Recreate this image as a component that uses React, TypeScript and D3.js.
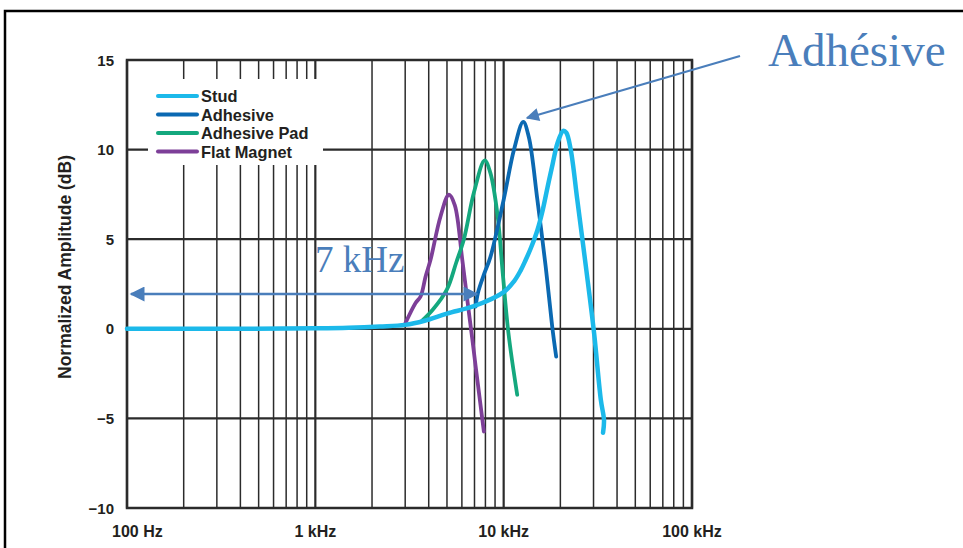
import React from "react";
import * as d3 from "d3";

const W = 963;
const H = 548;

// Frequencies (Hz) and normalized amplitude (dB) for each series
const studFreq = [100, 300, 1000, 1500, 2200, 3000, 3800, 5000, 7100, 10000, 11350, 12300, 13100, 14000, 15100, 16100, 17100, 18200, 19300, 20700, 21500, 22700, 24600, 27300, 30200, 32800, 34100, 33700];
const studDb = [0, 0, 0.03, 0.06, 0.13, 0.22, 0.45, 0.85, 1.3, 2.05, 2.65, 3.25, 3.85, 4.55, 5.5, 6.6, 7.9, 9.2, 10.36, 11.05, 10.95, 10.0, 7.2, 3.5, -0.24, -3.96, -5.1, -5.8];

const adhesiveFreq = [7100, 7300, 7900, 8500, 10000, 11350, 12700, 13600, 15100, 16700, 18100, 19000];
const adhesiveDb = [1.24, 2.0, 3.1, 4.0, 7.2, 10.0, 11.55, 10.7, 7.2, 3.5, 0.13, -1.55];

const padFreq = [3690, 4200, 5000, 5600, 6150, 6950, 7930, 8500, 9290, 9890, 10600, 11800];
const padDb = [0.45, 1.06, 2.2, 3.7, 5.0, 7.6, 9.4, 8.7, 6.3, 3.1, -0.24, -3.68];

const magnetFreq = [3010, 3400, 3620, 3850, 4090, 4620, 5120, 5500, 6030, 6410, 6820, 7100, 7850];
const magnetDb = [0.32, 1.43, 1.8, 2.92, 3.85, 6.27, 7.48, 6.9, 3.85, 1.62, -0.6, -2.1, -5.73];

const seriesNames = ["Stud", "Adhesive", "Adhesive Pad", "Flat Magnet"];
const seriesColors = ["#1cb9ea", "#0b69b2", "#14a87e", "#7d3f98"];

const yTicks = [15, 10, 5, 0, -5, -10];
const xDecades = [100, 1000, 10000, 100000];
const xTickLabels = ["100 Hz", "1 kHz", "10 kHz", "100 kHz"];

const yTitle = "Normalized Amplitude (dB)";
const noteAdhesive = "Adhésive";
const note7k = "7 kHz";

export default function App() {
  const left = 127, right = 692, top = 60, bottom = 508;
  const x = d3.scaleLog().domain([100, 100000]).range([left, right]);
  const y = d3.scaleLinear().domain([-10, 15]).range([bottom, top]);

  const minor: number[] = [];
  for (let d = 100; d < 100000; d *= 10) {
    for (let k = 2; k <= 9; k++) minor.push(d * k);
  }

  const line = d3
    .line<[number, number]>()
    .x((d) => x(d[0]))
    .y((d) => y(d[1]))
    .curve(d3.curveCatmullRom.alpha(0.5));

  const zip = (f: number[], v: number[]) => f.map((ff, i) => [ff, v[i]] as [number, number]);
  const series = [
    zip(studFreq, studDb),
    zip(adhesiveFreq, adhesiveDb),
    zip(padFreq, padDb),
    zip(magnetFreq, magnetDb),
  ];
  const drawOrder = [3, 2, 1, 0];

  const sans = "'Liberation Sans', Arial, sans-serif";
  const serif = "'Liberation Serif', 'DejaVu Serif', serif";
  const gridColor = "#2b2b2b";
  const noteColor = "#4a7ebb";
  const textColor = "#231f20";

  return (
    <svg width={W} height={H} style={{ position: "absolute", left: 0, top: 0 }}>
      <defs>
        <marker id="ah" viewBox="0 0 10 10" refX="9" refY="5" markerWidth="6.5" markerHeight="6" orient="auto-start-reverse" markerUnits="strokeWidth">
          <path d="M0,0 L10,5 L0,10 z" fill={noteColor} />
        </marker>
      </defs>
      <rect x={0} y={0} width={W} height={H} fill="#fff" />
      <rect x={5} y={11} width={1000} height={600} fill="none" stroke="#000" strokeWidth={2.5} />

      {/* grid */}
      {minor.map((f) => (
        <line key={"m" + f} x1={x(f)} x2={x(f)} y1={top} y2={bottom} stroke={gridColor} strokeWidth={1.5} />
      ))}
      {xDecades.map((f) => (
        <line key={"d" + f} x1={x(f)} x2={x(f)} y1={top} y2={bottom} stroke={gridColor} strokeWidth={2.2} />
      ))}
      {yTicks.map((t) => (
        <line key={"h" + t} x1={left} x2={right} y1={y(t)} y2={y(t)} stroke={gridColor} strokeWidth={2.2} />
      ))}
      <rect x={left} y={top} width={right - left} height={bottom - top} fill="none" stroke={gridColor} strokeWidth={2.5} />

      {/* legend */}
      <rect x={148} y={79} width={175} height={86} fill="#fff" />
      {seriesNames.map((n, i) => (
        <g key={n} transform={`translate(0, ${96 + i * 18.5})`}>
          <line x1={158} x2={197} y1={0} y2={0} stroke={seriesColors[i]} strokeWidth={4} strokeLinecap="round" />
          <text x={201} y={6} fontFamily={sans} fontWeight={700} fontSize={16.4} fill={textColor}>{n}</text>
        </g>
      ))}

      {/* curves */}
      {drawOrder.map((i) => (
        <path key={i} d={line(series[i]) || ""} fill="none" stroke={seriesColors[i]} strokeWidth={i === 0 ? 4.5 : 3.8} strokeLinejoin="round" strokeLinecap="round" />
      ))}

      {/* axes labels */}
      {yTicks.map((t) => (
        <text key={"yl" + t} x={114} y={y(t) + 5.5} textAnchor="end" fontFamily={sans} fontWeight={700} fontSize={15} fill={textColor}>
          {t < 0 ? "\u2212" + Math.abs(t) : t}
        </text>
      ))}
      {xDecades.map((f, i) => (
        <text key={"xl" + f} x={i === 0 ? x(f) - 15 : x(f)} y={537} textAnchor={i === 0 ? "start" : "middle"} fontFamily={sans} fontWeight={700} fontSize={16} fill={textColor}>
          {xTickLabels[i]}
        </text>
      ))}
      <text transform={`translate(71, 267) rotate(-90)`} textAnchor="middle" fontFamily={sans} fontWeight={700} fontSize={17.5} fill={textColor}>
        {yTitle}
      </text>

      {/* annotations */}
      <text x={768} y={66} fontFamily={serif} fontSize={47} fill={noteColor}>{noteAdhesive}</text>
      <line x1={740} y1={56} x2={527} y2={118} stroke={noteColor} strokeWidth={2.2} markerEnd="url(#ah)" />
      <text x={315} y={272} fontFamily={serif} fontSize={37} fill={noteColor}>{note7k}</text>
      <line x1={131} y1={294} x2={477} y2={294} stroke={noteColor} strokeWidth={2.5} markerStart="url(#ah)" markerEnd="url(#ah)" />
    </svg>
  );
}
